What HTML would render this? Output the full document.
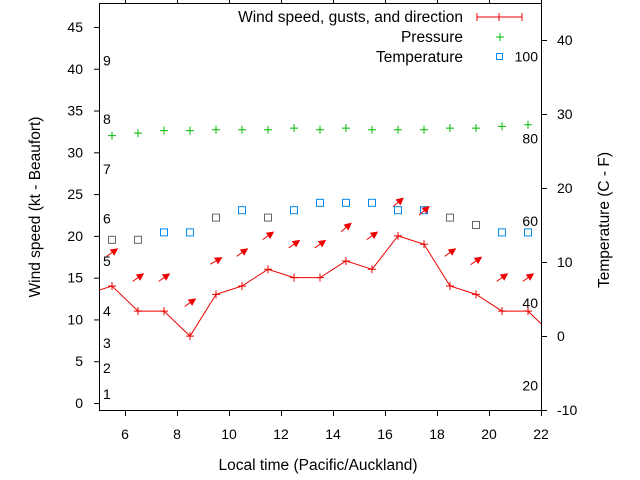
<!DOCTYPE html>
<html><head><meta charset="utf-8"><style>
html,body{margin:0;padding:0;background:#fff;}
svg{display:block;font-family:"Liberation Sans",sans-serif;}
</style></head><body>
<svg id="chart" width="640" height="480" xmlns="http://www.w3.org/2000/svg">
<rect x="0" y="0" width="640" height="480" fill="#fff"/>
<g id="axes"></g>
<g id="marks"></g>
<text x="318" y="470" font-size="15.5" text-anchor="middle">Local time (Pacific/Auckland)</text>
<text transform="translate(40,207) rotate(-90)" font-size="15.5" text-anchor="middle">Wind speed (kt - Beaufort)</text>
<text transform="translate(609,220) rotate(-90)" font-size="15.5" text-anchor="middle">Temperature (C - F)</text>
<g>
<text x="463" y="22" font-size="15.5" text-anchor="end">Wind speed, gusts, and direction</text>
<path d="M477 17H522M477 13V21M522 13V21M499 13V21" stroke="#e00" stroke-width="1"/>
<text x="463" y="42" font-size="15.5" text-anchor="end">Pressure</text>
<path d="M496 37H504M500 33V41" stroke="#0b0" stroke-width="1"/>
<text x="463" y="62" font-size="15.5" text-anchor="end">Temperature</text>
<rect x="496.5" y="53.5" width="6" height="6" fill="none" stroke="#08e"/>
</g>
</svg>
<script>
const hours=[5.5,6.5,7.5,8.5,9.5,10.5,11.5,12.5,13.5,14.5,15.5,16.5,17.5,18.5,19.5,20.5,21.5];
const windSpeed=[14,11,11,8,13,14,16,15,15,17,16,20,19,14,13,11,11];
const gusts=[18,15,15,12,17,18,20,19,19,21,20,24,23,18,17,15,15];
const windDir=[35,35,35,35,30,35,35,35,35,40,35,40,40,35,35,35,35];
const pressure=[32,32.3,32.6,32.6,32.7,32.7,32.7,32.9,32.7,32.9,32.7,32.7,32.7,32.9,32.9,33.1,33.3];
const temperature=[13,13,14,14,16,17,16,17,18,18,18,17,17,16,15,14,14];
const tempGray=[1,1,0,0,1,0,1,0,0,0,0,0,0,1,1,0,0];
const xTicks=[6,8,10,12,14,16,18,20,22];
const leftTicks=[0,5,10,15,20,25,30,35,40,45];
const rightTicks=[-10,0,10,20,30,40];
const beaufort=[1,2,3,4,5,6,7,8,9];
const beaufortKt=[1.1,4.2,7.2,11,17,22.1,28,34,41];
const fahrenheit=[20,40,60,80,100];

const X=h=>125+(h-6)*26;
const YL=v=>403-v*8.356;
const YR=t=>336-t*7.4;
const FtoY=f=>YR((f-32)*5/9);
const NS='http://www.w3.org/2000/svg';
const ax=document.getElementById('axes'),mk=document.getElementById('marks');
function el(p,tag,a){const e=document.createElementNS(NS,tag);for(const k in a)e.setAttribute(k,a[k]);p.appendChild(e);return e;}

let e=el(ax,'rect',{x:99.5,y:3.5,width:442,height:407,fill:'none',stroke:'#000'});


xTicks.forEach(h=>{
 let t=el(ax,'path',{d:`M${X(h)+.5} 411V416M${X(h)+.5} 3V0`,stroke:'#000'});
 
 
 let l=el(ax,'text',{x:X(h),y:439,'font-size':14,'text-anchor':'middle'});l.textContent=h;
 
 
});
leftTicks.forEach(v=>{
 let t=el(ax,'path',{d:`M94 ${YL(v)+.5}H99`,stroke:'#000'});
 
 
 let l=el(ax,'text',{x:83,y:YL(v)+5,'font-size':14,'text-anchor':'end'});l.textContent=v;
 
 
});
rightTicks.forEach(v=>{
 let t=el(ax,'path',{d:`M542 ${YR(v)+.5}H547`,stroke:'#000'});
 
 
 let l=el(ax,'text',{x:557,y:YR(v)+5,'font-size':14});l.textContent=v;
 
 
});
beaufort.forEach((b,i)=>{
 let l=el(ax,'text',{x:103,y:YL(beaufortKt[i])+5,'font-size':14});l.textContent=b;
 
 
});
fahrenheit.forEach(f=>{
 let l=el(ax,'text',{x:538,y:FtoY(f)+5,'font-size':14,'text-anchor':'end'});l.textContent=f;
 
 
});

hours.forEach((h,i)=>{
 const x=X(h),y=YL(pressure[i]);
 let p=el(mk,'path',{d:`M${x-4} ${y}H${x+4}M${x} ${y-4}V${y+4}`,stroke:'#0b0'});
 
 
});
hours.forEach((h,i)=>{
 const x=X(h),y=YR(temperature[i]);
 let r=el(mk,'rect',{x:x-3.5,y:y-3.5,width:7,height:7,fill:'none',stroke:tempGray[i]?'#666':'#08e'});
 
 
});
let pts=hours.map((h,i)=>`${X(h)},${YL(windSpeed[i])}`);
pts.unshift(`${X(5)},${YL((windSpeed[0]+13)/2)}`);
pts.push(`${X(22)},${YL(windSpeed[windSpeed.length-1]-1.5)}`);
let ln=el(mk,'polyline',{points:pts.join(' '),fill:'none',stroke:'#e00'});


hours.forEach((h,i)=>{
 const x=X(h),y=YL(windSpeed[i]);
 let p=el(mk,'path',{d:`M${x-4} ${y}H${x+4}M${x} ${y-4}V${y+4}`,stroke:'#e00'});
 
 
});
hours.forEach((h,i)=>{
 const cx=X(h),cy=YL(gusts[i]),a=windDir[i]*Math.PI/180,L=6.5;
 const dx=Math.cos(a)*L,dy=-Math.sin(a)*L;
 const x2=cx+dx,y2=cy+dy,ux=dx/L,uy=dy/L;
 const hx=x2-ux*6,hy=y2-uy*6;
 let g=el(mk,'path',{d:`M${cx-dx} ${cy-dy}L${x2} ${y2}M${x2} ${y2}L${hx-uy*3} ${hy+ux*3}L${hx+uy*3} ${hy-ux*3}Z`,stroke:'#e00',fill:'#e00'});
 
 
});
</script>
</body></html>
